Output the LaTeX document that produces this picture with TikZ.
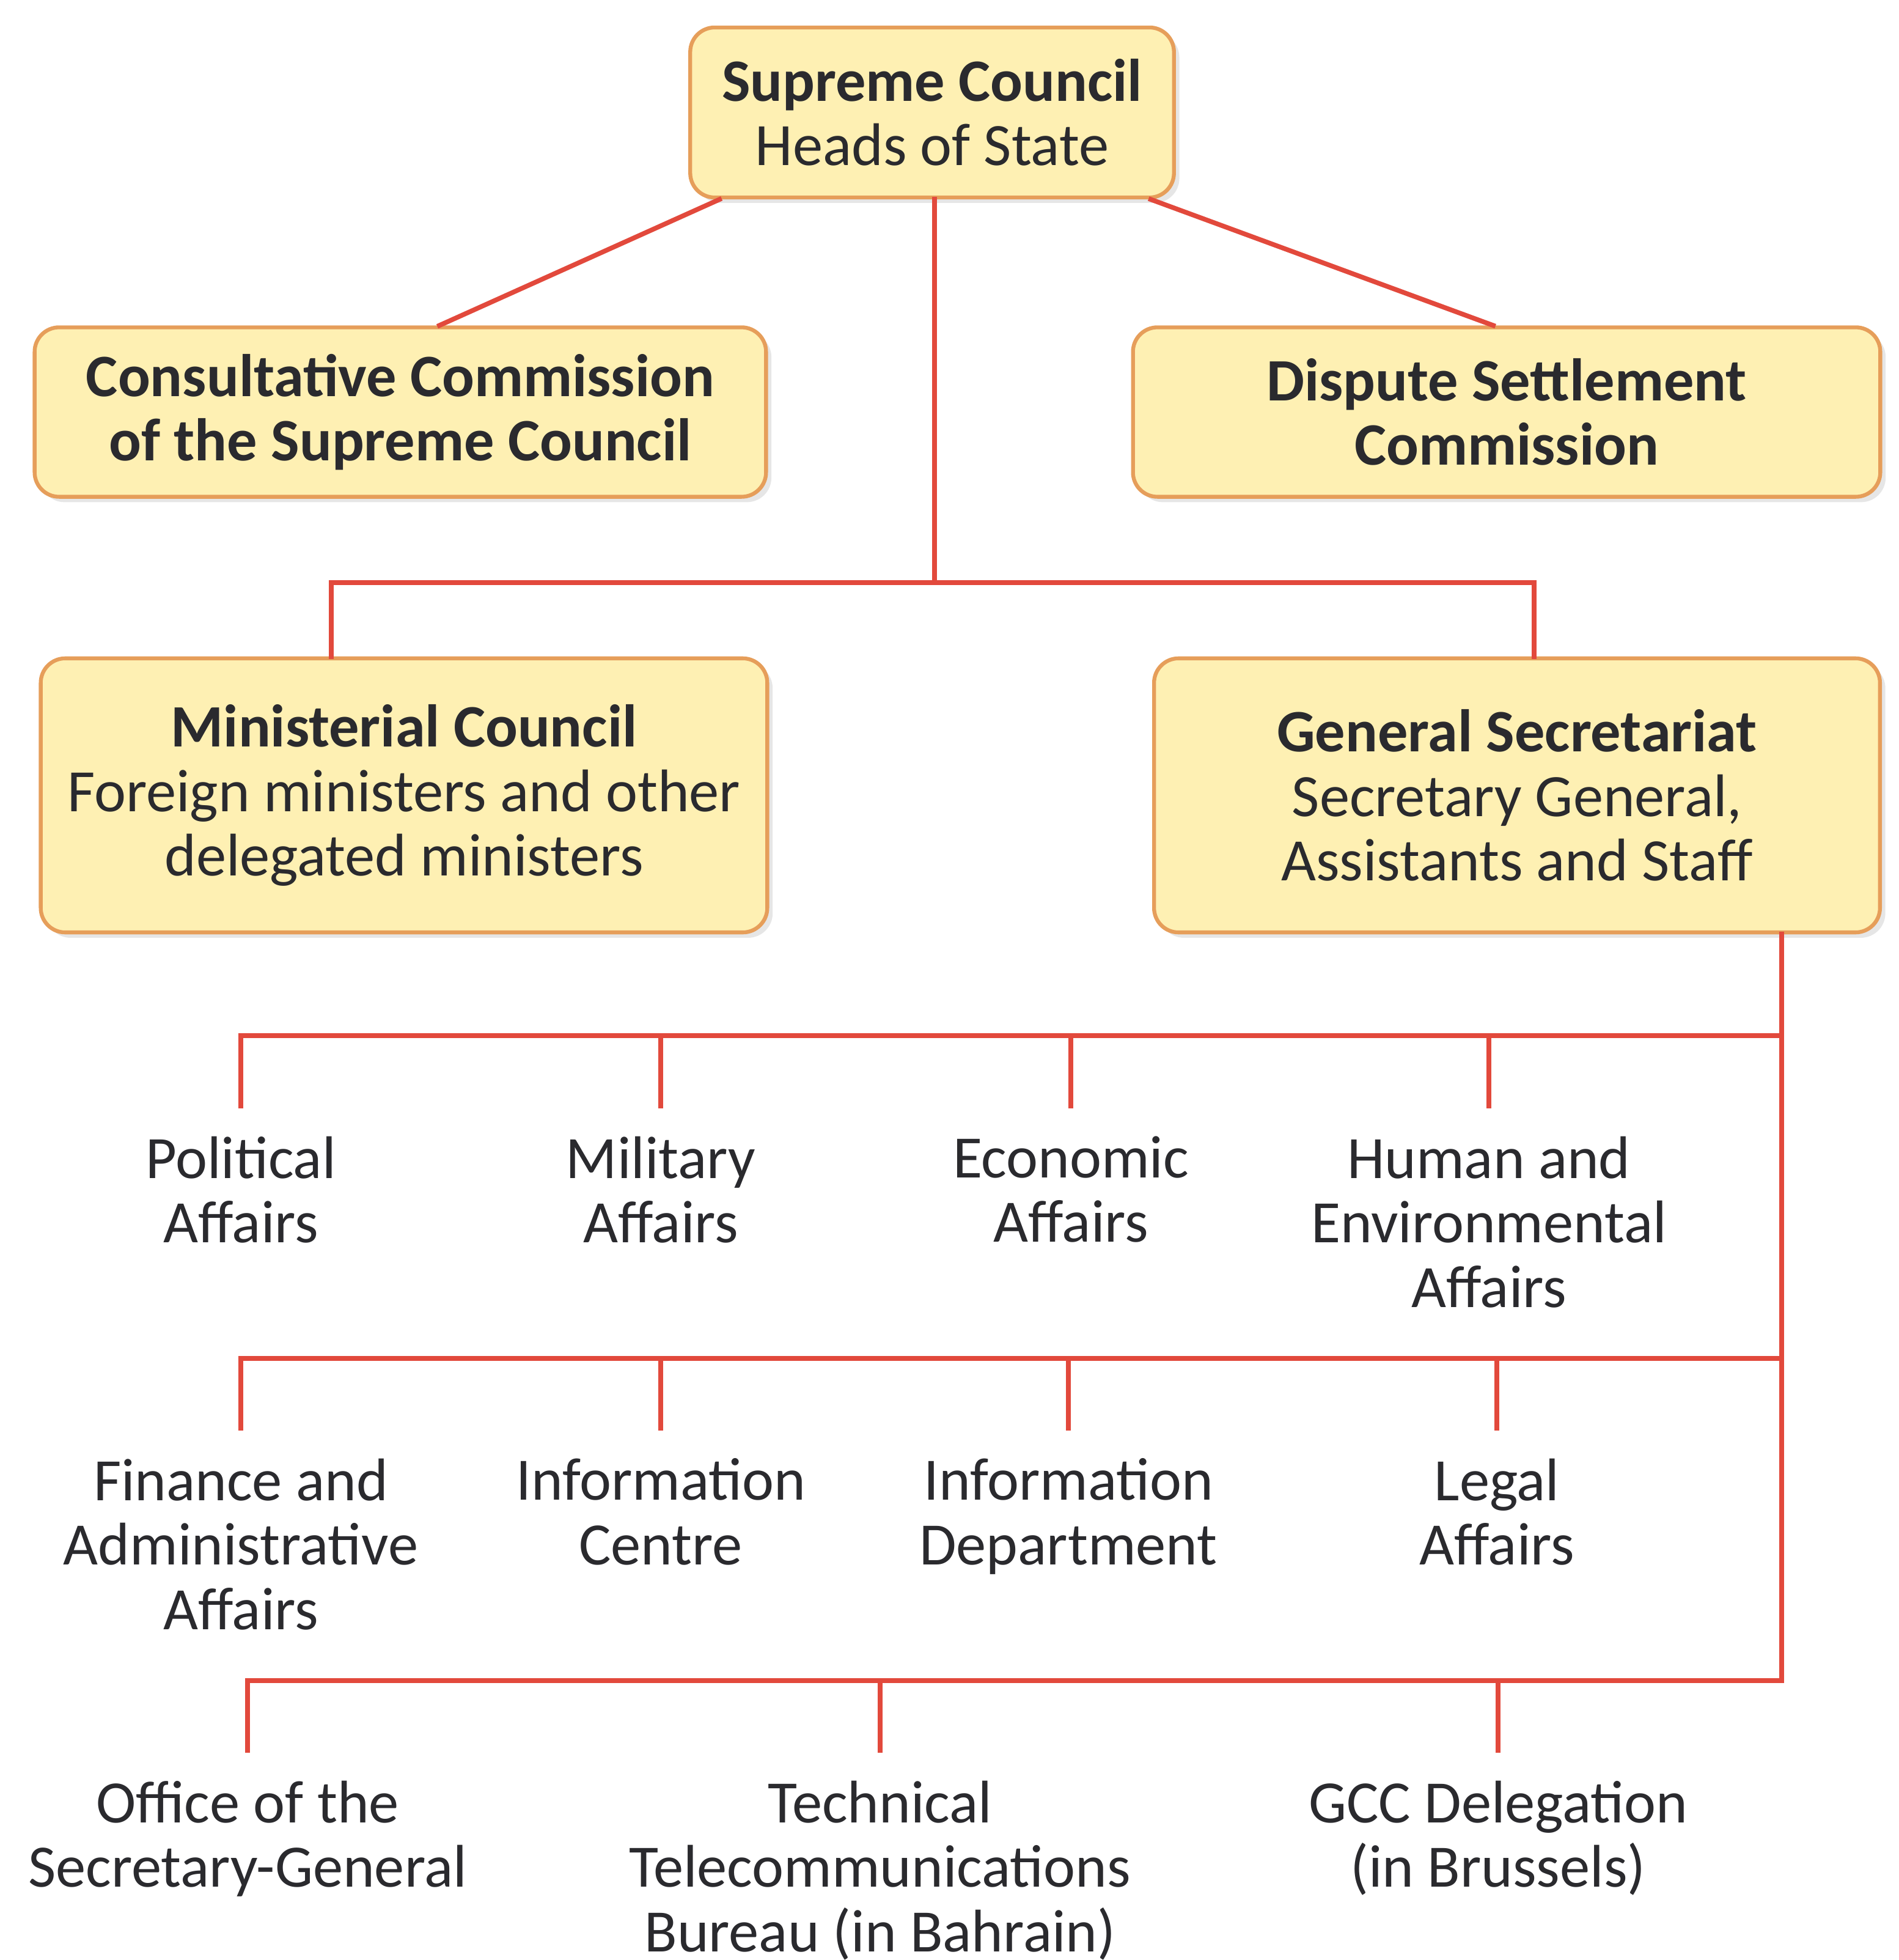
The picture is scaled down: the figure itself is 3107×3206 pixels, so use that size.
\documentclass[tikz,border=0pt]{standalone}
\usepackage{fontspec}
\setmainfont{Carlito}
\usetikzlibrary{calc}
\usetikzlibrary{shadows}

\definecolor{boxfill}{HTML}{FEF0B3}
\definecolor{boxline}{HTML}{E69E5A}
\definecolor{linkred}{HTML}{E2493C}
\definecolor{txt}{HTML}{2A2A2E}

\tikzset{
  council/.style={draw=boxline, line width=1.8pt, fill=boxfill, rounded corners=0.4cm,
    align=center, text=txt, font=\fontsize{28}{30}\selectfont,
    drop shadow={opacity=0.2, shadow xshift=2.5pt, shadow yshift=-2.5pt}},
  unit/.style={inner sep=0pt, anchor=north, align=center, text=txt,
    font=\fontsize{28}{30}\selectfont},
  link/.style={draw=linkred, line width=2.2pt, line cap=rect},
  tick/.style={link, line cap=butt, shorten >=0.45cm},
}

\begin{document}
\begin{tikzpicture}[x=0.01cm, y=-0.01cm]
\useasboundingbox (0,0) rectangle (3107,3206);

% councils
\node[council, minimum width=7.91cm, minimum height=2.78cm] (sc) at (1525,184)
  {\textbf{Supreme Council}\\Heads of State};
\node[council, minimum width=11.96cm, minimum height=2.77cm] (cc) at (655,674)
  {\textbf{Consultative Commission}\\\textbf{of the Supreme Council}};
\node[council, minimum width=12.22cm, minimum height=2.77cm] (ds) at (2465,674)
  {\textbf{Dispute Settlement}\\\textbf{Commission}};
\node[council, minimum width=11.88cm, minimum height=4.48cm] (mc) at (661,1301)
  {\textbf{Ministerial Council}\\Foreign ministers and other\\delegated ministers};
\node[council, minimum width=11.87cm, minimum height=4.48cm] (gs) at (2482,1301)
  {\textbf{General Secretariat}\\Secretary General,\\Assistants and Staff};

% departments
\node[unit] (pol) at (394,1858) {Political\\Affairs};
\node[unit] (mil) at (1081,1858) {Military\\Affairs};
\node[unit] (eco) at (1752,1858) {Economic\\Affairs};
\node[unit] (hum) at (2436,1858) {Human and\\Environmental\\Affairs};

\node[unit] (fin) at (394,2385) {Finance and\\Administrative\\Affairs};
\node[unit] (ic) at (1081,2385) {Information\\Centre};
\node[unit] (id) at (1748,2385) {Information\\Department};
\node[unit] (leg) at (2449,2385) {Legal\\Affairs};

\node[unit] (off) at (405,2912) {Office of the\\Secretary-General};
\node[unit] (tel) at (1440,2912) {Technical\\Telecommunications\\Bureau (in Bahrain)};
\node[unit] (bru) at (2451,2912) {GCC Delegation\\(in Brussels)};

% top links
\coordinate (split) at (1529,953);
\coordinate (mctie) at (542,953);
\coordinate (gstie) at (2510,953);
\draw[link] ($(sc.south west)+(51,0)$) -- ($(cc.north)+(64,0)$);
\draw[link] ($(sc.south east)+(-41,0)$) -- ($(ds.north)+(-22,0)$);
\draw[link] (sc.south -| split) -- (split);
\draw[link] (mc.north -| mctie) -- (mctie) -- (gstie) -- (gs.north -| gstie);

% secretariat buses
\coordinate (bus1) at (2915,1694);
\coordinate (bus2) at (2915,2222);
\coordinate (bus3) at (2915,2749);
\draw[link] (gs.south -| bus1) -- (bus3);
\draw[link] (bus1) -- (bus1 -| pol);
\draw[link] (bus2) -- (bus2 -| fin);
\draw[link] (bus3) -- (bus3 -| off);
\foreach \n in {pol,mil,eco,hum}
  \draw[tick] (bus1 -| \n) -- (\n.north);
\foreach \n in {fin,ic,id,leg}
  \draw[tick] (bus2 -| \n) -- (\n.north);
\foreach \n in {off,tel,bru}
  \draw[tick] (bus3 -| \n) -- (\n.north);
\end{tikzpicture}
\end{document}
